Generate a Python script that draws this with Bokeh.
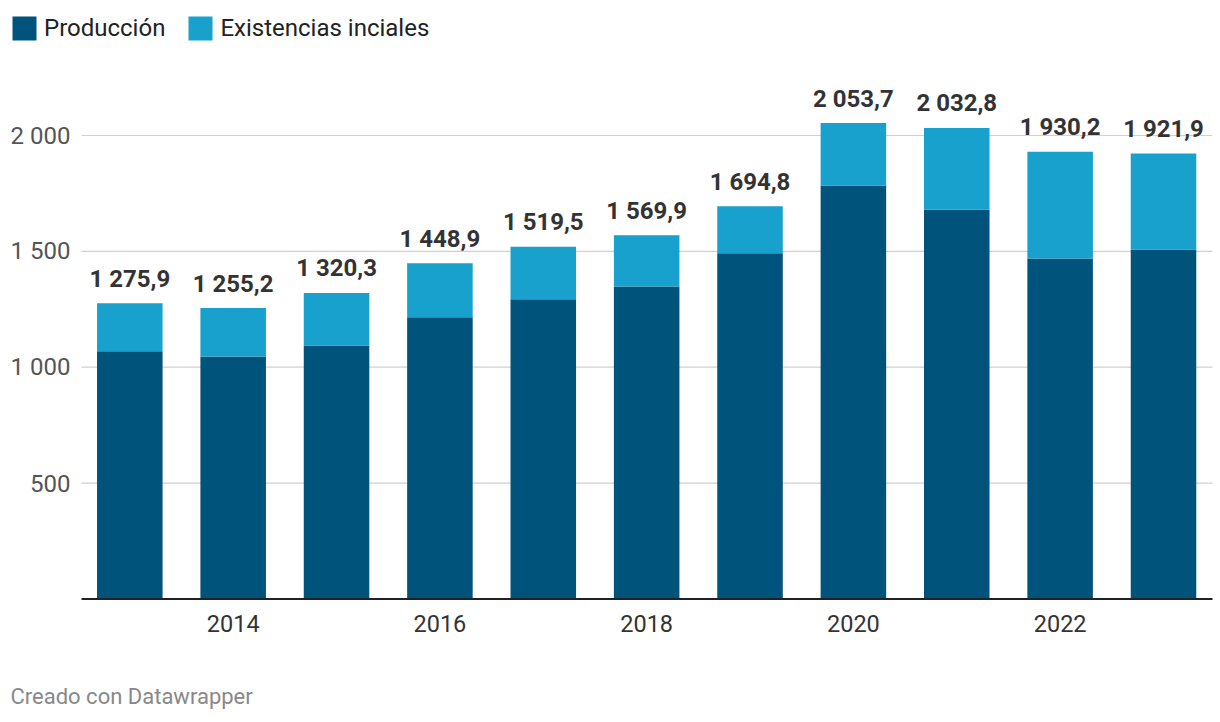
from bokeh.plotting import figure
from bokeh.models import (ColumnDataSource, Legend, LegendItem, Label, Range1d)
from bokeh.core.properties import value
from bokeh.embed import file_html
from bokeh.resources import INLINE

# ---- data ----
years = [2013, 2014, 2015, 2016, 2017, 2018, 2019, 2020, 2021, 2022, 2023]
produccion = [1069, 1046, 1094, 1216, 1293, 1348, 1492, 1784, 1681, 1469, 1508]
existencias = [206.9, 209.2, 226.3, 232.9, 226.5, 221.9, 202.8, 269.7, 351.8, 461.2, 413.9]
totales = [1275.9, 1255.2, 1320.3, 1448.9, 1519.5, 1569.9, 1694.8, 2053.7, 2032.8, 1930.2, 1921.9]
x_ticks = [2014, 2016, 2018, 2020, 2022]
x_tick_labels = ["2014", "2016", "2018", "2020", "2022"]
y_ticks = [500, 1000, 1500, 2000]
y_tick_labels = ["500", "1 000", "1 500", "2 000"]
series_names = ["Producción", "Existencias inciales"]
colors = ["#00537a", "#19a1cd"]


def fmt(v):
    s = f"{v:,.1f}"
    return s.replace(",", " ").replace(".", ",")


label_text = [fmt(t) for t in totales]

FONT = "Roboto"
W, H = 1220, 722

# scale set-up (the frame is the whole canvas)
PX_PER_YEAR = 103.37
PX_PER_UNIT = 0.2317
x_start = 2013 - 129.3 / PX_PER_YEAR
x_end = x_start + W / PX_PER_YEAR
y_end = 598.4 / PX_PER_UNIT
y_start = y_end - H / PX_PER_UNIT


def px_x(px):
    return x_start + px / PX_PER_YEAR


plot_left, plot_right = px_x(81), px_x(1212)

src = ColumnDataSource(dict(x=years, prod=produccion, exist=existencias,
                            total=totales, label=label_text))

p = figure(width=W, height=H, output_backend="svg", toolbar_location=None,
           x_range=Range1d(x_start, x_end), y_range=Range1d(y_start, y_end),
           x_axis_location=None, y_axis_location=None,
           min_border=0, min_border_left=0, min_border_right=0,
           min_border_top=0, min_border_bottom=0)
p.outline_line_color = None
p.background_fill_color = "white"
p.border_fill_color = "white"
p.xgrid.visible = False
p.ygrid.visible = False

# horizontal grid lines
p.segment(x0=[plot_left] * len(y_ticks), x1=[plot_right] * len(y_ticks),
          y0=y_ticks, y1=y_ticks, line_color="#d0d0d0", line_width=1.2)

renderers = p.vbar_stack(["prod", "exist"], x="x", width=0.634, color=colors,
                         line_color=None, source=src)

# axis baseline
p.segment(x0=[plot_left], x1=[plot_right], y0=[0], y1=[0],
          line_color="#222222", line_width=2)

# y tick labels
p.text(x=[px_x(70)] * len(y_ticks), y=y_ticks, text=y_tick_labels,
       text_align="right", text_baseline="middle", text_font=value(FONT),
       text_font_size="24px", text_color="#555555")

# x tick labels
p.text(x=x_ticks, y=[0] * len(x_ticks), text=x_tick_labels, y_offset=25,
       text_align="center", text_baseline="middle", text_font=value(FONT),
       text_font_size="23.5px", text_color="#333333")

# value labels
p.text(x="x", y="total", text="label", source=src, text_align="center",
       text_baseline="middle", y_offset=-24.5, text_font=value(FONT),
       text_font_size="24px", text_font_style="bold", text_color="#333333")

# legend (location = bottom-left corner, measured from the frame's bottom-left)
legend = Legend(items=[LegendItem(label=series_names[i], renderers=[renderers[i]])
                       for i in range(2)],
                orientation="horizontal", location=(9, H - 43),
                glyph_width=30, glyph_height=30, label_standoff=5, spacing=20,
                padding=0, margin=0, border_line_color=None,
                background_fill_alpha=0, label_text_font=FONT,
                label_text_font_size="24px", label_text_color="#222222",
                label_height=30)
p.add_layout(legend, "center")

credit = Label(x=10, y=H - 695.5, x_units="screen", y_units="screen",
               text="Creado con Datawrapper", text_font=FONT, text_font_size="22px",
               text_color="#888888", text_baseline="middle")
p.add_layout(credit)

open("out.html", "w").write(file_html(p, INLINE))
